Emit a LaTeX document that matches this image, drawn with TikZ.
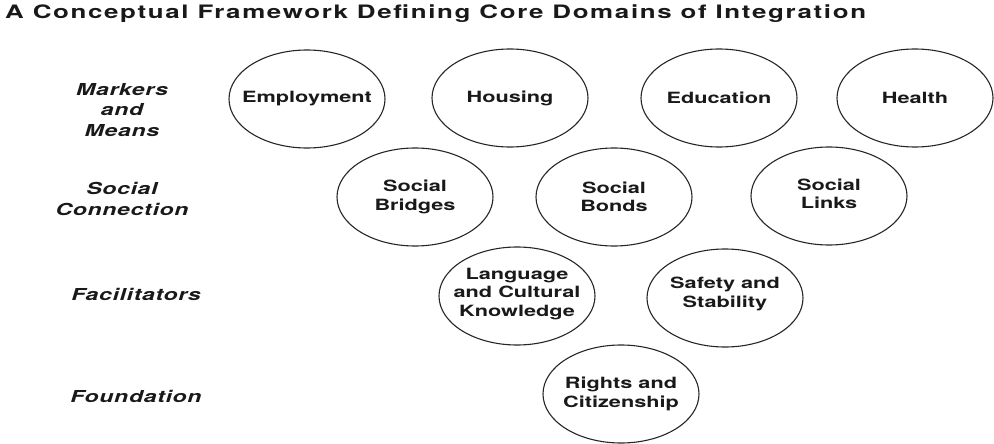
\documentclass[tikz,border=0pt]{standalone}
\usepackage{fontspec}
\setmainfont{TeX Gyre Heros}
\newfontfamily\titlefont[FakeStretch=1.4,LetterSpace=9]{TeX Gyre Heros}
\newfontfamily\domainfont[FakeStretch=1.4,LetterSpace=0]{TeX Gyre Heros}
\newfontfamily\tierfont[FakeStretch=1.4,LetterSpace=4]{TeX Gyre Heros}
\usetikzlibrary{shapes.geometric}
\tikzset{
  domainoval/.style={ellipse, draw=black!85, line width=1.1pt, minimum width=156pt,
    minimum height=98pt, inner sep=0pt},
  domaintext/.style={align=center, inner sep=0pt, text=black!90,
    font=\domainfont\bfseries\fontsize{15.5}{18.5}\selectfont},
  tierlabel/.style={align=center, text=black!90,
    font=\tierfont\bfseries\itshape\fontsize{16.5}{20.5}\selectfont},
  titletext/.style={anchor=base west, inner sep=0pt, text=black!90,
    font=\titlefont\bfseries\fontsize{18.5}{20}\selectfont}
}
\begin{document}
\begin{tikzpicture}[x=1pt,y=-1pt]
  \useasboundingbox (0,0) rectangle (994,444);

  \node[titletext] (title) at (5,18.5) {A Conceptual Framework Defining Core Domains of Integration};

  % tier labels
  \node[tierlabel] (markers) at (122,110) {Markers\\and\\Means};
  \node[tierlabel] (social)  at (122,199) {Social\\Connection};
  \node[tierlabel] (facil)   at (136,294) {Facilitators};
  \node[tierlabel] (found)   at (136,396) {Foundation};

  % domain ovals
  \node[domainoval] (emp) at (307,99) {};
  \node[domainoval] (hou) at (510,98) {};
  \node[domainoval] (edu) at (719,98) {};
  \node[domainoval] (hea) at (915,98) {};
  \node[domainoval] (bri) at (415,197) {};
  \node[domainoval] (bon) at (614,197) {};
  \node[domainoval] (lin) at (829,196) {};
  \node[domainoval] (lan) at (517,296) {};
  \node[domainoval] (saf) at (725,298) {};
  \node[domainoval] (rig) at (621,394) {};

  % domain names
  \node[domaintext] (emp-t) at (emp) {Employment};
  \node[domaintext] (hou-t) at (hou) {Housing};
  \node[domaintext] (edu-t) at (edu) {Education};
  \node[domaintext] (hea-t) at (hea) {Health};
  \node[domaintext] (bri-t) at (bri) {Social\\Bridges};
  \node[domaintext] (bon-t) at (bon) {Social\\Bonds};
  \node[domaintext] (lin-t) at ([yshift=2pt]lin) {Social\\Links};
  \node[domaintext] (lan-t) at ([yshift=2pt]lan) {Language\\and Cultural\\Knowledge};
  \node[domaintext] (saf-t) at ([yshift=4pt]saf) {Safety and\\Stability};
  \node[domaintext] (rig-t) at (rig) {Rights and\\Citizenship};
\end{tikzpicture}
\end{document}
